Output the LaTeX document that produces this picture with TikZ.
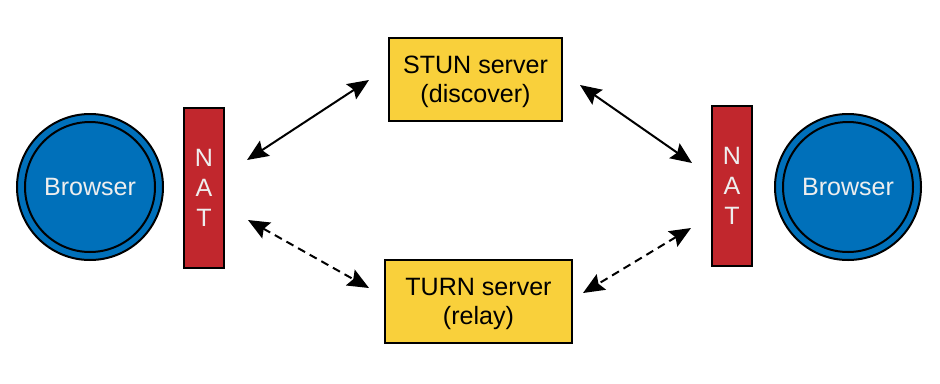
\documentclass[tikz,border=0pt]{standalone}
\usepackage{fontspec}
\setmainfont{Liberation Sans}
\usetikzlibrary{arrows.meta}
\definecolor{peerblue}{HTML}{0070BA}
\definecolor{natred}{HTML}{C1272D}
\definecolor{srvyellow}{HTML}{F9D03B}
\definecolor{lighttext}{HTML}{EEEEEE}
\begin{document}
\begin{tikzpicture}[x=0.75pt,y=-0.75pt,
  every node/.style={font=\fontsize{18.8}{21.8}\selectfont},
  peer/.style={circle,draw=black,line width=1.5pt,fill=peerblue,minimum size=146*0.75pt,inner sep=0pt},
  peerring/.style={circle,draw=black,line width=1.5pt,minimum size=130*0.75pt,inner sep=0pt,text=lighttext},
  natbox/.style={rectangle,draw=black,line width=1.5pt,fill=natred,minimum width=40*0.75pt,minimum height=160*0.75pt,
    inner sep=0pt,text=lighttext,align=center,font=\fontsize{18.8}{22.5}\selectfont},
  server/.style={rectangle,draw=black,line width=1.5pt,fill=srvyellow,minimum height=83*0.75pt,inner sep=0pt},
  srvtext/.style={align=center,inner sep=0pt,yshift=-2.5*0.75pt},
  link/.style={line width=1.5pt,{Stealth[length=16pt,width=13.5pt,inset=2.5pt]}-{Stealth[length=16pt,width=13.5pt,inset=2.5pt]}},
  relaylink/.style={link,dash pattern=on 6pt off 4pt}
]
\useasboundingbox (0,0) rectangle (940,383);

% peers
\node[peer] (b1) at (90,187) {};
\node[peerring] (b1in) at (90,187) {Browser};
\node[peer] (b2) at (848,187) {};
\node[peerring] (b2in) at (848,187) {Browser};

% NAT devices
\node[natbox] (nat1) at (204,188) {N\\A\\T};
\node[natbox] (nat2) at (732,186) {N\\A\\T};

% servers
\node[server,minimum width=173*0.75pt] (stun) at (475.5,79.5) {};
\node[srvtext] (stuntext) at (stun.center) {STUN server\\(discover)};
\node[server,minimum width=187*0.75pt] (turn) at (478.5,301.5) {};
\node[srvtext] (turntext) at (turn.center) {TURN server\\(relay)};

% arrow end points
\coordinate (s1a) at (247,160);
\coordinate (s1b) at (369,80);
\coordinate (s2a) at (580,85);
\coordinate (s2b) at (692,163);
\coordinate (t1a) at (248,220);
\coordinate (t1b) at (369,288);
\coordinate (t2a) at (691,228);
\coordinate (t2b) at (583,293);

\draw[link] (s1a) -- (s1b);
\draw[link] (s2a) -- (s2b);
\draw[relaylink] (t1a) -- (t1b);
\draw[relaylink] (t2a) -- (t2b);
\end{tikzpicture}
\end{document}
